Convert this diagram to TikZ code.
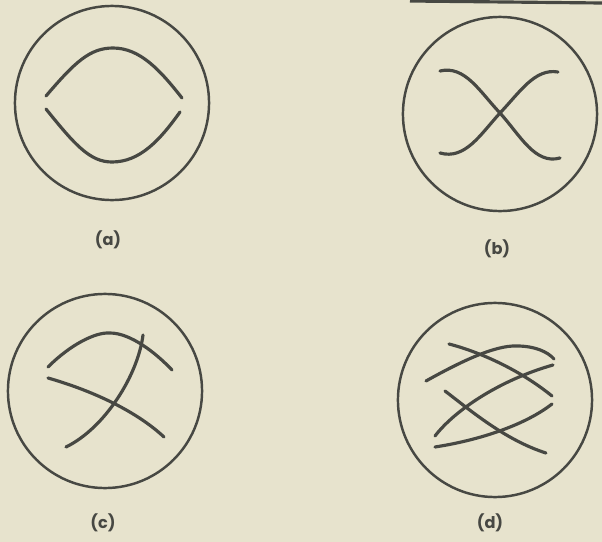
\documentclass[tikz,border=0pt]{standalone}
\usepackage{fontspec}
\setmainfont{Poppins}
\usepackage{tikz}
\definecolor{paper}{HTML}{E7E3CD}
\definecolor{ink}{HTML}{474843}

\begin{document}
\begin{tikzpicture}[
  x=0.01cm, y=-0.01cm,
  ring/.style={draw=ink, circle, line width=0.7pt, minimum size=1.94cm, inner sep=0pt},
  strand/.style={draw=ink, line width=0.9pt, line cap=round},
  lbl/.style={font=\fontsize{4.6}{5.5}\selectfont\bfseries, text=ink}
]
  \fill[paper] (0,0) rectangle (602,542);
  \useasboundingbox (0,0) rectangle (602,542);
  \draw[ink, line width=0.9pt] (410,1) -- (602,3);

  \node[ring] (ca) at (112,103) {};
  \node[ring] (cb) at (500,114) {};
  \node[ring] (cc) at (105,391) {};
  \node[ring] (cd) at (495,400) {};

  \node[lbl] (la) at (108,240) {(a)};
  \node[lbl] (lb) at (497,249) {(b)};
  \node[lbl] (lc) at (103,523) {(c)};
  \node[lbl] (ld) at (490,523) {(d)};

  \draw[strand] (46,96) .. controls (75,62) and (90,48) .. (113,48)
    .. controls (140,48) and (160,70) .. (182,98);
  \draw[strand] (46,109) .. controls (75,145) and (90,162) .. (112,162)
    .. controls (140,162) and (160,140) .. (180,112);

  \draw[strand] (440,71) .. controls (465,65) and (480,92) .. (500,113)
    .. controls (520,135) and (535,165) .. (560,158);
  \draw[strand] (440,153) .. controls (465,160) and (480,135) .. (500,113)
    .. controls (520,92) and (535,68) .. (558,72);

  \draw[strand] (48,367) .. controls (70,345) and (95,332) .. (110,333)
    .. controls (130,333) and (155,352) .. (172,370);
  \draw[strand] (48,378) .. controls (90,390) and (135,410) .. (164,437);
  \draw[strand] (143,335) .. controls (138,375) and (105,428) .. (66,447);

  \draw[strand] (426,381) .. controls (460,362) and (495,345) .. (517,346)
    .. controls (535,346) and (548,352) .. (554,359);
  \draw[strand] (449,344) .. controls (480,352) and (520,370) .. (552,396);
  \draw[strand] (435,436) .. controls (455,410) and (500,380) .. (553,365);
  \draw[strand] (445,391) .. controls (470,410) and (505,440) .. (546,453);
  \draw[strand] (435,447) .. controls (480,440) and (525,425) .. (552,404);
\end{tikzpicture}
\end{document}
